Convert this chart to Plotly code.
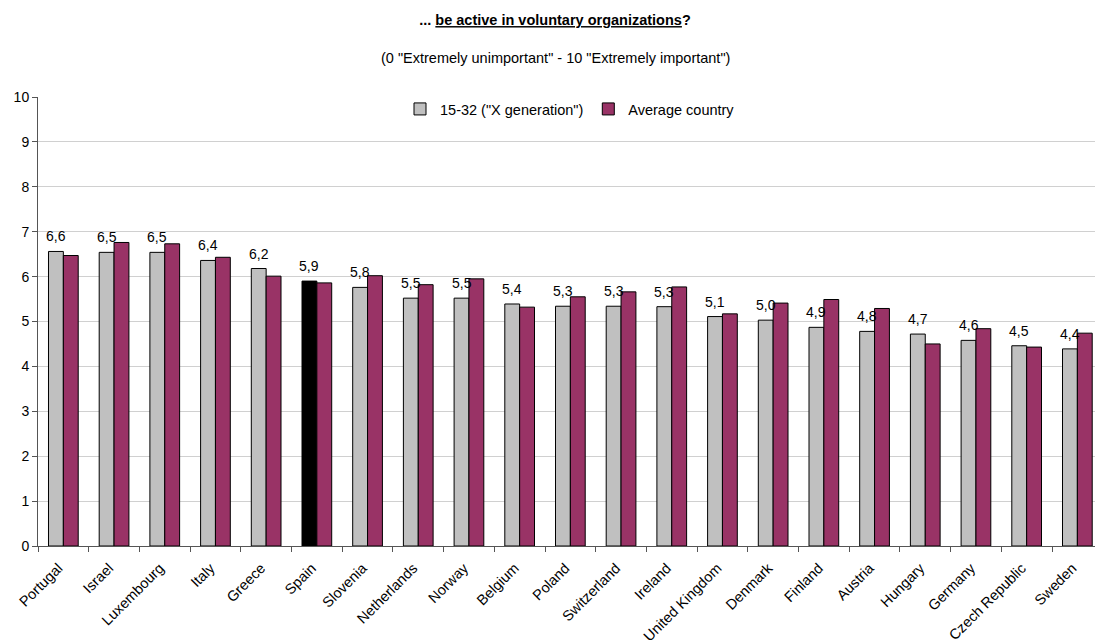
import plotly.graph_objects as go

# Countries, sorted by the 15-32 group score
countries = [
    "Portugal", "Israel", "Luxembourg", "Italy", "Greece", "Spain", "Slovenia",
    "Netherlands", "Norway", "Belgium", "Poland", "Switzerland", "Ireland",
    "United Kingdom", "Denmark", "Finland", "Austria", "Hungary", "Germany",
    "Czech Republic", "Sweden",
]

# Mean importance (0-10) for the 15-32 age group ("X generation")
gen_x = [6.56, 6.54, 6.54, 6.36, 6.18, 5.90, 5.76, 5.52, 5.52, 5.39, 5.34,
         5.34, 5.33, 5.11, 5.03, 4.87, 4.78, 4.72, 4.58, 4.46, 4.39]

# Mean importance (0-10) for the whole country
country_avg = [6.47, 6.76, 6.73, 6.43, 6.01, 5.86, 6.02, 5.82, 5.95, 5.32, 5.55,
               5.66, 5.77, 5.17, 5.41, 5.49, 5.29, 4.50, 4.84, 4.43, 4.74]

highlight = "Spain"

FONT = "Liberation Sans, Arial, sans-serif"
GREY = "#c0c0c0"
PLUM = "#993366"

gen_colors = ["#000000" if c == highlight else GREY for c in countries]

fig = go.Figure()
fig.add_trace(go.Bar(
    name='15-32 ("X generation")',
    x=countries, y=gen_x,
    marker=dict(color=gen_colors, line=dict(color="#000000", width=1)),
))
fig.add_trace(go.Bar(
    name="Average country",
    x=countries, y=country_avg,
    marker=dict(color=PLUM, line=dict(color="#000000", width=1)),
))

# Value labels above the 15-32 bars, decimal comma
for c, v in zip(countries, gen_x):
    fig.add_annotation(
        x=c, y=v, xref="x", yref="y",
        text=f"{v:.1f}".replace(".", ","),
        showarrow=False, xanchor="center", yanchor="bottom",
        xshift=-7.4, yshift=5,
        font=dict(family=FONT, size=14, color="#000000"),
    )

# Subtitle with the scale description
fig.add_annotation(
    x=(555 - 38) / 1057, y=(546 - 57.5) / 449, xref="paper", yref="paper",
    text='(0 "Extremely unimportant" - 10 "Extremely important")',
    showarrow=False, xanchor="center", yanchor="middle",
    font=dict(family=FONT, size=14.5, color="#000000"),
)

fig.update_layout(
    width=1095, height=644,
    margin=dict(l=38, r=0, t=97, b=98),
    paper_bgcolor="#ffffff", plot_bgcolor="#ffffff",
    separators=",.",
    font=dict(family=FONT, size=14, color="#000000"),
    title=dict(
        text="<b>... <u>be active in voluntary organizations</u>?</b>",
        x=555 / 1095, xanchor="center", xref="container",
        y=1 - 20 / 644, yanchor="middle", yref="container",
        font=dict(family=FONT, size=14.5, color="#000000"),
    ),
    barmode="group", bargap=0.414, bargroupgap=0,
    showlegend=True,
    legend=dict(
        orientation="h", x=(570 - 38) / 1057, xanchor="center",
        y=(546 - 109) / 449, yanchor="middle",
        bgcolor="rgba(0,0,0,0)", itemwidth=30,
        font=dict(family=FONT, size=14.5, color="#000000"),
        traceorder="normal",
    ),
    xaxis=dict(
        type="category", range=[-0.5, 20.348], automargin=False,
        tickangle=-45, tickson="boundaries",
        ticks="outside", ticklen=5, tickcolor="#555555",
        ticklabelstandoff=7, ticklabelshift=-5,
        showline=True, linecolor="#555555", linewidth=1,
        showgrid=False, zeroline=False,
        tickfont=dict(family=FONT, size=14.5, color="#000000"),
    ),
    yaxis=dict(
        range=[0, 10], dtick=1, tick0=0, automargin=False,
        ticks="outside", ticklen=5, tickcolor="#555555",
        showline=True, linecolor="#555555", linewidth=1,
        showgrid=True, gridcolor="#d0d0d0", gridwidth=1,
        zeroline=False,
        tickfont=dict(family=FONT, size=14, color="#000000"),
    ),
)

fig.write_html("out.html")
